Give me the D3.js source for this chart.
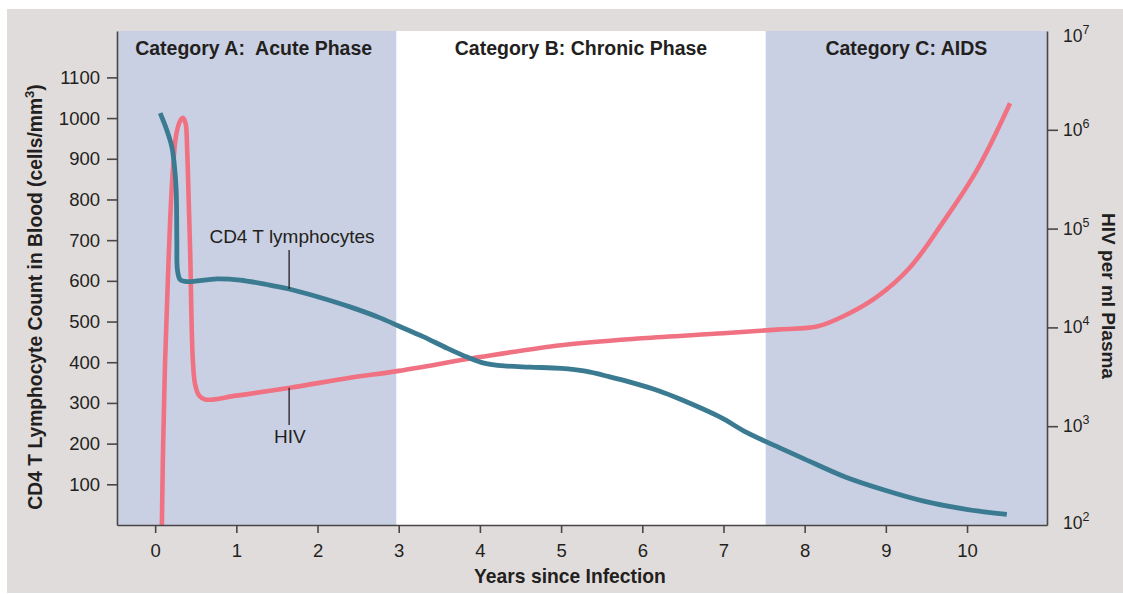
<!DOCTYPE html>
<html>
<head>
<meta charset="utf-8">
<script src="https://cdn.jsdelivr.net/npm/d3@7"></script>
<style>
  html, body { margin: 0; padding: 0; background: #ffffff; }
  svg { display: block; }
</style>
</head>
<body>
<svg id="chart" width="1123" height="594"></svg>
<script>
// ---- Data ----------------------------------------------------------------
// CD4 T lymphocyte count (cells/mm3) over years since infection
const cd4Years  = [0.062, 0.144, 0.206, 0.234, 0.259, 0.267, 0.275, 0.308, 0.390, 0.760,
                   1.047, 1.376, 1.650, 2.00, 2.40, 2.77, 3.00, 3.30, 3.60, 3.85,
                   4.05, 4.30, 4.62, 5.00, 5.30, 5.60, 5.85, 6.20, 6.47, 6.96,
                   7.29, 7.70, 8.00, 8.50, 8.98, 9.48, 10.01, 10.49];
const cd4Counts = [1012, 970, 929, 889, 823, 700, 626, 603, 598, 605,
                   602, 591, 580, 561, 536, 509, 489, 463, 434, 412,
                   398, 391, 388, 385, 378, 364, 351, 330, 309, 265,
                   227, 189, 162, 118, 86, 58, 38, 26];

// HIV RNA copies per ml plasma over years since infection
const hivYears = [0.083, 0.095, 0.111, 0.123, 0.148, 0.185, 0.222, 0.259, 0.308, 0.345,
                  0.376, 0.394, 0.413, 0.431, 0.464, 0.493, 0.542, 0.616, 1.00, 1.66,
                  2.40, 3.00, 4.00, 5.00, 6.00, 7.00, 7.70, 8.15, 8.47, 8.89,
                  9.30, 9.70, 10.12, 10.53];
const hivLoads = [100, 460, 1860, 4680, 19000, 123000, 437000, 891000, 1230000, 1320000,
                  1150000, 631000, 195000, 60000, 4680, 2630, 2040, 1860, 2040, 2450,
                  3090, 3630, 5010, 6610, 7760, 8710, 9550, 10200, 12900, 20400,
                  40700, 115000, 389000, 1860000];

// Axis ticks
const yearTicks  = [0, 1, 2, 3, 4, 5, 6, 7, 8, 9, 10];
const countTicks = [100, 200, 300, 400, 500, 600, 700, 800, 900, 1000, 1100];
const loadTicks  = [1e3, 1e4, 1e5, 1e6];
const loadLabelExponents = [2, 3, 4, 5, 6, 7];

// Clinical phases
const phaseNames  = ["Category A:  Acute Phase", "Category B: Chronic Phase", "Category C: AIDS"];
const phaseStarts = [-0.47, 2.97, 7.52];
const phaseEnds   = [2.97, 7.52, 10.985];
const phaseShaded = [true, false, true];

// Curve labels with leader lines (year, value at curve, value at line end, value at text)
const cd4Label = { text: "CD4 T lymphocytes", year: 1.65, textYear: 1.685, from: 580, to: 676, at: 693 };
const hivLabel = { text: "HIV", year: 1.65, textYear: 1.66, from: 2450, to: 1030, at: 676 };

// ---- Layout --------------------------------------------------------------
const W = 1123, H = 594;
const plot = { left: 117, right: 1047, top: 31, bottom: 525 };
const FONT = "'Liberation Sans', Arial, Helvetica, sans-serif";
const INK = "#231f20";
const AXIS = "#4a4646";
const TEAL = "#3b7b92";
const PINK = "#f07282";
const BAND = "#cad0e3";

const svg = d3.select("#chart");

const x = d3.scaleLinear().domain([-0.47, 10.985]).range([plot.left, plot.right]);
const yCount = d3.scaleLinear().domain([0, 1214]).range([plot.bottom, plot.top]);
const yLoad = d3.scaleLog().domain([1e2, 1e7]).range([plot.bottom, plot.top]);

// Grey card behind the figure
svg.append("rect")
  .attr("x", 7).attr("y", 9)
  .attr("width", W - 7).attr("height", 593 - 9)
  .attr("fill", "#e1dcdc");

// Plot area
svg.append("rect")
  .attr("x", plot.left).attr("y", plot.top)
  .attr("width", plot.right - plot.left).attr("height", plot.bottom - plot.top)
  .attr("fill", "#ffffff");

const phases = phaseNames.map((name, i) => ({
  name, start: phaseStarts[i], end: phaseEnds[i], shaded: phaseShaded[i]
}));

svg.append("g").selectAll("rect")
  .data(phases.filter(p => p.shaded))
  .join("rect")
  .attr("x", p => x(p.start))
  .attr("y", plot.top)
  .attr("width", p => x(p.end) - x(p.start))
  .attr("height", plot.bottom - plot.top)
  .attr("fill", BAND);

svg.append("g").selectAll("text")
  .data(phases)
  .join("text")
  .attr("x", (p, i) => (x(p.start) + x(p.end)) / 2 - (i === 0 ? 3 : 0))
  .attr("y", 55)
  .attr("text-anchor", "middle")
  .style("white-space", "pre")
  .attr("font-family", FONT)
  .attr("font-weight", "bold")
  .attr("font-size", 19.5)
  .attr("fill", INK)
  .text(p => p.name);

// ---- Curves --------------------------------------------------------------
svg.append("clipPath").attr("id", "plot-clip")
  .append("rect")
  .attr("x", plot.left).attr("y", plot.top)
  .attr("width", plot.right - plot.left).attr("height", plot.bottom - plot.top);

const cd4Data = cd4Years.map((yr, i) => ({ year: yr, value: cd4Counts[i] }));
const hivData = hivYears.map((yr, i) => ({ year: yr, value: hivLoads[i] }));

const smooth = d3.curveCatmullRom.alpha(0.5);
const curves = svg.append("g").attr("clip-path", "url(#plot-clip)");

curves.append("path")
  .datum(hivData)
  .attr("fill", "none")
  .attr("stroke", PINK)
  .attr("stroke-width", 4.6)
  .attr("stroke-linejoin", "round")
  .attr("d", d3.line().x(d => x(d.year)).y(d => yLoad(d.value)).curve(smooth));

curves.append("path")
  .datum(cd4Data)
  .attr("fill", "none")
  .attr("stroke", TEAL)
  .attr("stroke-width", 4.8)
  .attr("stroke-linejoin", "round")
  .attr("d", d3.line().x(d => x(d.year)).y(d => yCount(d.value)).curve(smooth));

// ---- Curve labels --------------------------------------------------------
function leader(lbl, scale) {
  svg.append("line")
    .attr("x1", x(lbl.year)).attr("x2", x(lbl.year))
    .attr("y1", scale(lbl.from)).attr("y2", scale(lbl.to))
    .attr("stroke", INK).attr("stroke-width", 1.3);
  svg.append("text")
    .attr("x", x(lbl.textYear)).attr("y", scale(lbl.at))
    .attr("text-anchor", "middle")
    .attr("font-family", FONT).attr("font-size", 19)
    .attr("fill", INK)
    .text(lbl.text);
}
leader(cd4Label, yCount);
leader(hivLabel, yLoad);

// ---- Axes ----------------------------------------------------------------
function styleAxis(g) {
  g.selectAll(".domain").attr("stroke", AXIS).attr("stroke-width", 1.6);
  g.selectAll(".tick line").attr("stroke", AXIS).attr("stroke-width", 1.6);
  g.selectAll(".tick text").attr("fill", INK).attr("font-family", FONT);
  g.attr("font-family", FONT);
}

svg.append("g")
  .attr("transform", `translate(${plot.left},0)`)
  .call(d3.axisLeft(yCount).tickValues(countTicks).tickFormat(d3.format("d"))
          .tickSize(10).tickPadding(7).tickSizeOuter(0))
  .call(styleAxis)
  .call(g => g.selectAll(".tick text").attr("font-size", 18.5));

svg.append("g")
  .attr("transform", `translate(0,${plot.bottom})`)
  .call(d3.axisBottom(x).tickValues(yearTicks).tickFormat(d3.format("d"))
          .tickSize(8).tickPadding(11).tickSizeOuter(0))
  .call(styleAxis)
  .call(g => g.selectAll(".tick text").attr("font-size", 18.5));

svg.append("g")
  .attr("transform", `translate(${plot.right},0)`)
  .call(d3.axisRight(yLoad).tickValues(loadTicks).tickFormat("").tickSize(11).tickSizeOuter(0))
  .call(styleAxis);

// Power-of-ten labels on the right axis
const powLabels = svg.append("g").selectAll("text")
  .data(loadLabelExponents)
  .join("text")
  .attr("x", plot.right + 16)
  .attr("y", e => {
    const py = yLoad(Math.pow(10, e)) + 6;
    return e === 7 ? py + 5 : (e === 2 ? py - 2 : py);
  })
  .attr("font-family", FONT)
  .attr("font-size", 17.5)
  .attr("fill", INK);
powLabels.append("tspan").text("10");
powLabels.append("tspan")
  .attr("dy", -8)
  .attr("font-size", 12.5)
  .text(e => e);

// Axis titles
svg.append("text")
  .attr("transform", "translate(42,297) rotate(-90)")
  .attr("text-anchor", "middle")
  .attr("font-family", FONT).attr("font-weight", "bold").attr("font-size", 19.3)
  .attr("fill", INK)
  .call(t => {
    t.append("tspan").text("CD4 T Lymphocyte Count in Blood (cells/mm");
    t.append("tspan").attr("dy", -8).attr("font-size", 13).text("3");
    t.append("tspan").attr("dy", 8).text(")");
  });

svg.append("text")
  .attr("transform", "translate(1102,296) rotate(90)")
  .attr("text-anchor", "middle")
  .attr("font-family", FONT).attr("font-weight", "bold").attr("font-size", 19)
  .attr("fill", INK)
  .text("HIV per ml Plasma");

svg.append("text")
  .attr("x", 570).attr("y", 583)
  .attr("text-anchor", "middle")
  .attr("font-family", FONT).attr("font-weight", "bold").attr("font-size", 19.3)
  .attr("fill", INK)
  .text("Years since Infection");
</script>
</body>
</html>
